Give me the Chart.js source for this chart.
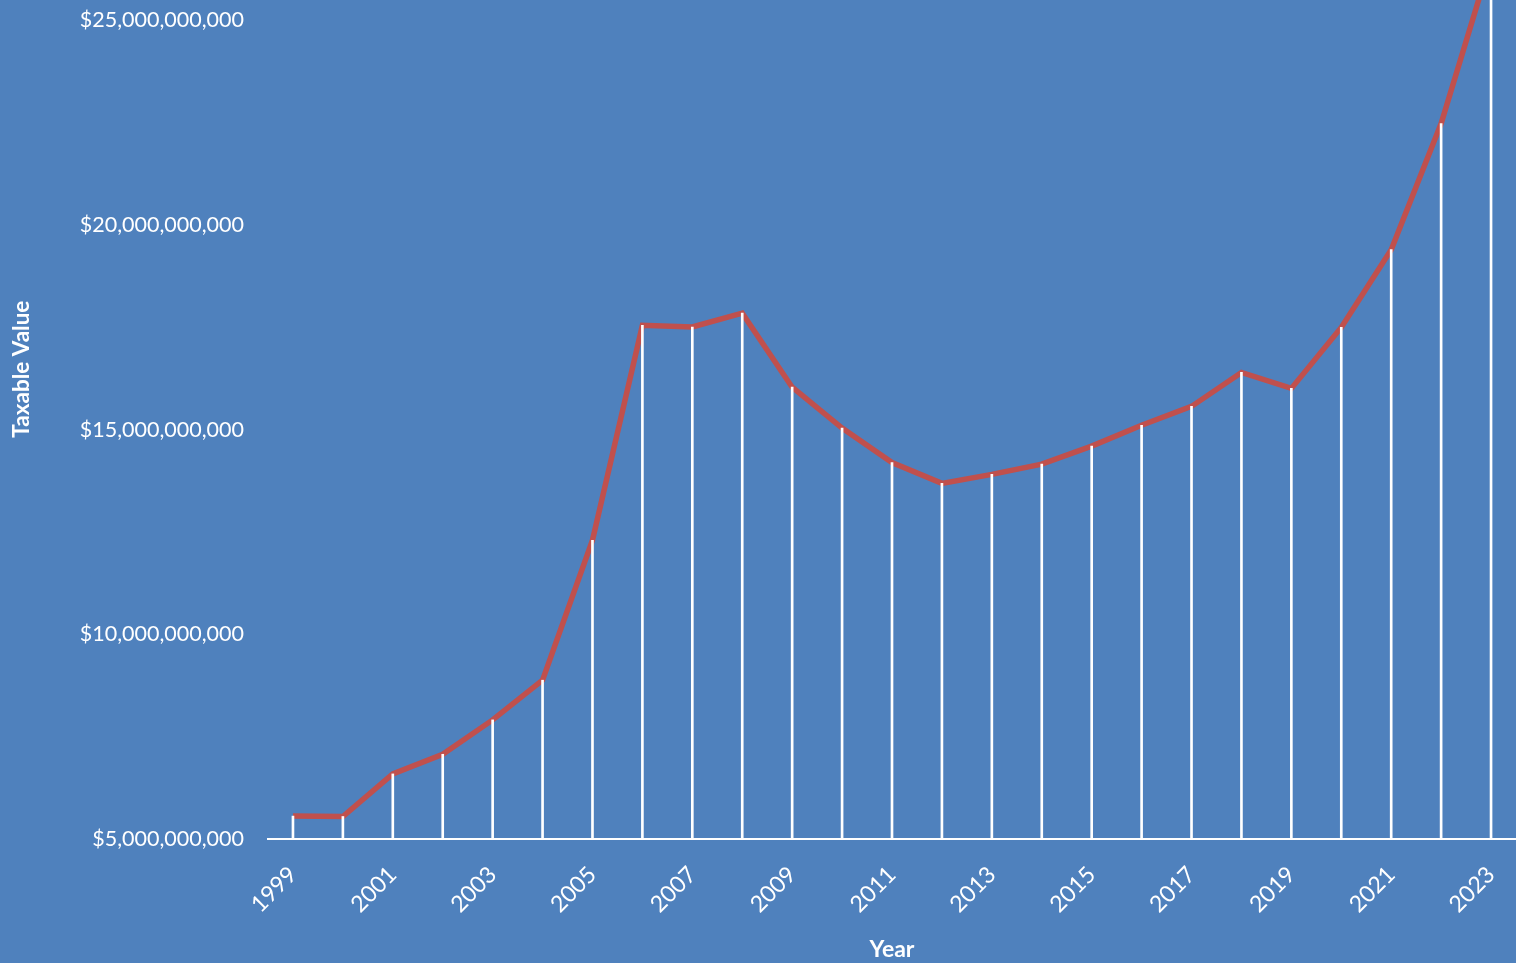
<!DOCTYPE html>
<html>
<head>
<meta charset="utf-8">
<title>Taxable Value by Year</title>
<script src="https://cdn.jsdelivr.net/npm/chart.js@4.4.1/dist/chart.umd.min.js"></script>
<style>
    html, body { margin: 0; padding: 0; background: #4F81BD; overflow: hidden; }
    #wrap { width: 1516px; height: 963px; position: relative; }
</style>
</head>
<body>
<div id="wrap"><canvas id="chart"></canvas></div>
<script>
// Years on the x axis
const years = ['1999', '2000', '2001', '2002', '2003', '2004', '2005', '2006', '2007', '2008',
    '2009', '2010', '2011', '2012', '2013', '2014', '2015', '2016', '2017', '2018',
    '2019', '2020', '2021', '2022', '2023'];

// Taxable value per year
const taxableValues = [5.56e9, 5.55e9, 6.59e9, 7.07e9, 7.91e9, 8.88e9, 12.30e9, 17.55e9, 17.51e9, 17.85e9,
    16.04e9, 15.04e9, 14.20e9, 13.69e9, 13.91e9, 14.16e9, 14.60e9, 15.11e9, 15.57e9, 16.40e9,
    16.01e9, 17.50e9, 19.40e9, 22.48e9, 26.5e9];

// Y axis tick values
const yTickValues = [5e9, 10e9, 15e9, 20e9, 25e9];
const yMin = 5e9;
const yMax = 25.5e9;

const FONT = 'Lato, "Open Sans", sans-serif';
const WHITE = '#FFFFFF';

// y title sits a bit above the middle of the plot, like the original
const yTitlePlugin = {
    id: 'yTitle',
    afterDraw(chart) {
        const ctx = chart.ctx;
        const area = chart.chartArea;
        ctx.save();
        ctx.translate(chart.scales.y.left + 22, area.top + (area.bottom - area.top) * 0.44);
        ctx.rotate(-Math.PI / 2);
        ctx.fillStyle = WHITE;
        ctx.font = 'bold 22.5px ' + FONT;
        ctx.textAlign = 'center';
        ctx.textBaseline = 'middle';
        ctx.fillText('Taxable Value', 0, 0);
        ctx.restore();
    }
};

new Chart(document.getElementById('chart'), {
    data: {
        labels: years,
        datasets: [
            {
                // drop lines from each point down to the axis
                type: 'bar',
                data: taxableValues,
                backgroundColor: WHITE,
                borderWidth: 0,
                barThickness: 2,
                base: yMin,
                order: 0
            },
            {
                type: 'line',
                label: 'Taxable Value',
                data: taxableValues,
                borderColor: '#C0504D',
                borderWidth: 5.5,
                pointRadius: 0,
                tension: 0,
                fill: false,
                order: 1
            }
        ]
    },
    options: {
        responsive: true,
        maintainAspectRatio: false,
        animation: false,
        events: [],
        layout: { padding: 0 },
        plugins: {
            legend: { display: false },
            tooltip: { enabled: false }
        },
        scales: {
            x: {
                offset: true,
                grid: { display: false, drawTicks: false },
                border: { display: true, color: WHITE, width: 2 },
                ticks: {
                    color: WHITE,
                    font: { family: FONT, size: 23 },
                    autoSkip: false,
                    minRotation: 45,
                    maxRotation: 45,
                    padding: 22,
                    callback: (v, i) => (i % 2 === 0 ? years[i] : '')
                },
                title: {
                    display: true,
                    text: 'Year',
                    color: WHITE,
                    font: { family: FONT, size: 23, weight: 'bold' },
                    padding: { top: 0, bottom: 0 }
                },
                afterFit: (scale) => {
                    scale.height = 124;
                    scale.paddingLeft = 0;
                    scale.paddingRight = 0;
                }
            },
            y: {
                min: yMin,
                max: yMax,
                grid: { display: false, drawTicks: false },
                border: { display: false },
                afterBuildTicks: (scale) => {
                    scale.ticks = yTickValues.map(v => ({ value: v }));
                },
                ticks: {
                    color: WHITE,
                    font: { family: FONT, size: 21.5 },
                    padding: 24,
                    callback: (v) => '$' + Number(v).toLocaleString('en-US')
                },
                afterFit: (scale) => {
                    scale.width = 268;
                    scale.paddingTop = 0;
                    scale.paddingBottom = 0;
                }
            }
        }
    },
    plugins: [yTitlePlugin]
});
</script>
</body>
</html>
